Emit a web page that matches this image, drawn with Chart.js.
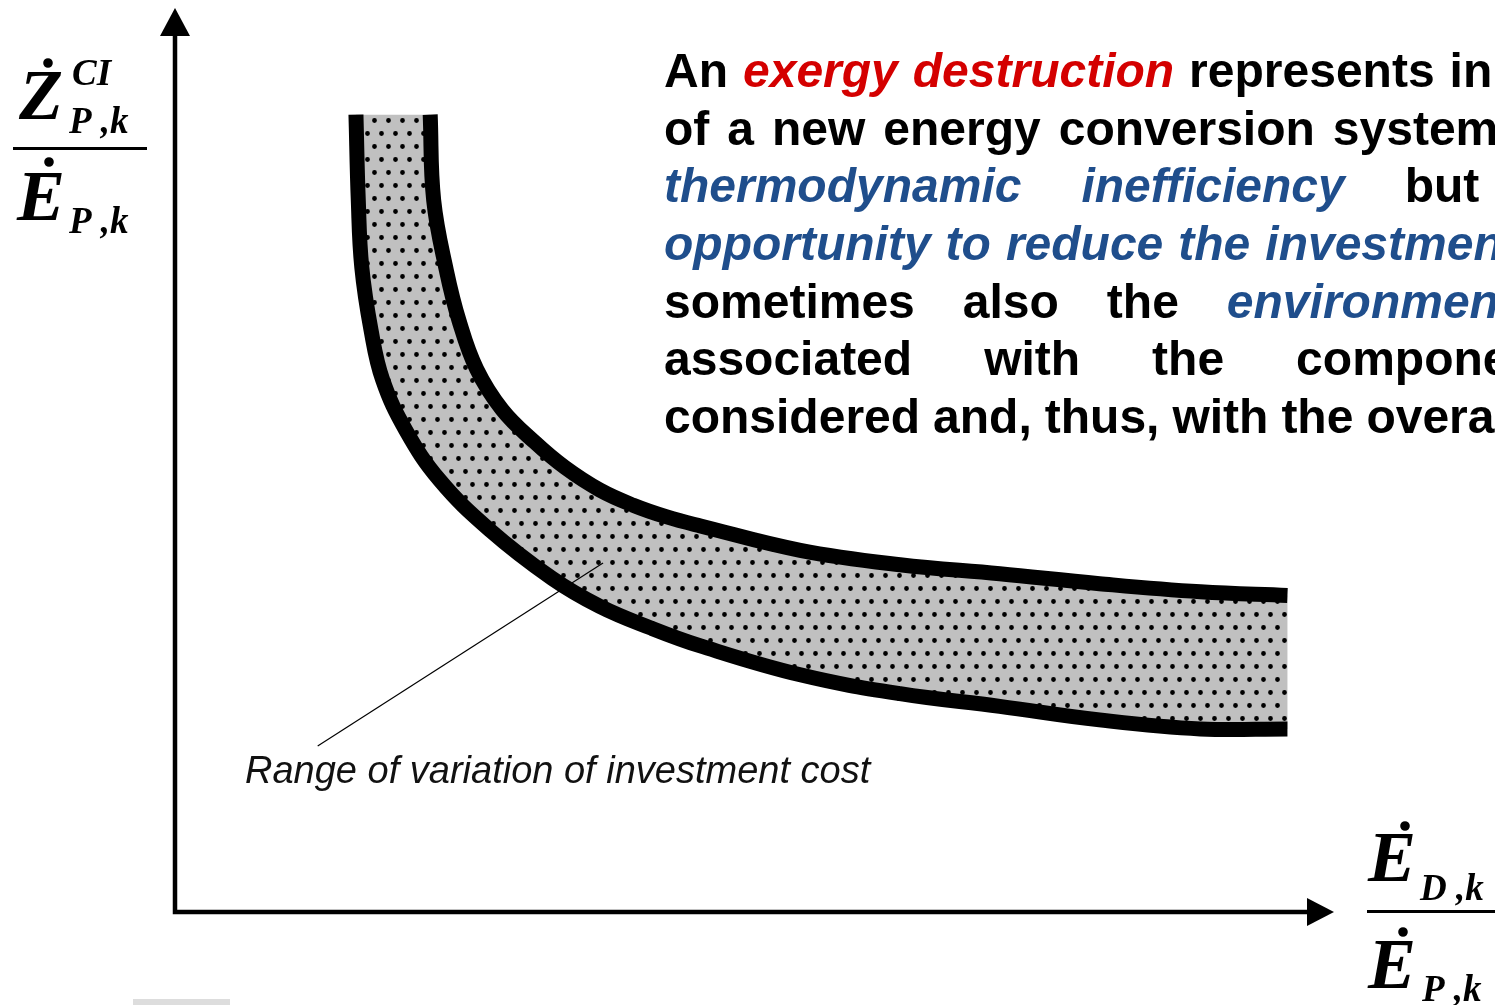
<!DOCTYPE html>
<html>
<head>
<meta charset="utf-8">
<script src="https://cdn.jsdelivr.net/npm/chart.js@4.4.1/dist/chart.umd.min.js"></script>
<style>
  body { margin: 0; background: #fff; }
  canvas { display: block; }
</style>
</head>
<body>
<canvas id="costChart" width="1495" height="1005"></canvas>
<script>
// band edges (x = ED/EP, y = ZCI/EP, arbitrary units 0..10)
const lowerX = [1.56, 1.58, 1.61, 1.69, 1.79, 1.99, 2.28, 2.71, 3.25, 3.66, 4.10, 4.53, 5.39, 6.25, 7.11, 7.97, 8.84, 9.59];
const lowerY = [8.84, 7.89, 7.15, 6.45, 5.90, 5.34, 4.79, 4.24, 3.70, 3.39, 3.15, 2.95, 2.63, 2.42, 2.28, 2.13, 2.03, 2.03];
const upperX = [2.20, 2.23, 2.34, 2.45, 2.60, 2.82, 3.10, 3.36, 3.66, 3.95, 4.24, 4.53, 5.39, 6.25, 7.11, 7.97, 8.84, 9.59];
const upperY = [8.84, 7.89, 7.11, 6.55, 6.02, 5.57, 5.21, 4.93, 4.68, 4.51, 4.38, 4.28, 4.01, 3.85, 3.75, 3.64, 3.55, 3.51];
// leader line of the annotation
const leaderX = [1.23, 3.69];
const leaderY = [1.84, 3.87];

const noteText = "Range of variation of investment cost";

// paragraph on the right: words and style (k = black, r = red italic, b = blue italic)
const paraLines = [
    { y: 87,  gap: 15, words: [["An", "k"], ["exergy", "r"], ["destruction", "r"], ["represents", "k"], ["in", "k"]] },
    { y: 145, gap: 18, words: [["of", "k"], ["a", "k"], ["new", "k"], ["energy", "k"], ["conversion", "k"], ["system", "k"]] },
    { y: 202, gap: 60, words: [["thermodynamic", "b"], ["inefficiency", "b"], ["but", "k"]] },
    { y: 260, gap: 15, words: [["opportunity", "b"], ["to", "b"], ["reduce", "b"], ["the", "b"], ["investment", "b"]] },
    { y: 318, gap: 48, words: [["sometimes", "k"], ["also", "k"], ["the", "k"], ["environmental", "b"]] },
    { y: 375, gap: 72, words: [["associated", "k"], ["with", "k"], ["the", "k"], ["component", "k"]] },
    { y: 433, gap: 13, words: [["considered", "k"], ["and,", "k"], ["thus,", "k"], ["with", "k"], ["the", "k"], ["overall", "k"]] }
];

function toPoints(xs, ys) {
    return xs.map((x, i) => ({ x: x, y: ys[i] }));
}

// grey fill with black dots
function makeDots() {
    const c = document.createElement("canvas");
    c.width = 14;
    c.height = 26;
    const g = c.getContext("2d");
    g.fillStyle = "#c0c0c0";
    g.fillRect(0, 0, 14, 26);
    g.fillStyle = "#000";
    g.beginPath();
    g.arc(3.5, 3.5, 2.4, 0, Math.PI * 2);
    g.arc(10.5, 16.5, 2.4, 0, Math.PI * 2);
    g.fill();
    return document.getElementById("costChart").getContext("2d").createPattern(c, "repeat");
}
const dots = makeDots();

const bandFill = {
    id: "bandFill",
    beforeDatasetsDraw(chart) {
        const ctx = chart.ctx;
        const lo = chart.getDatasetMeta(0).data;
        const up = chart.getDatasetMeta(1).data;
        ctx.save();
        ctx.beginPath();
        ctx.moveTo(lo[0].x, lo[0].y);
        for (let i = 1; i < lo.length; i++) ctx.lineTo(lo[i].x, lo[i].y);
        for (let i = up.length - 1; i >= 0; i--) ctx.lineTo(up[i].x, up[i].y);
        ctx.closePath();
        ctx.fillStyle = dots;
        ctx.fill();
        ctx.restore();
    }
};

function serif(size) {
    return "italic bold " + size + "px 'Liberation Serif', 'Times New Roman', serif";
}

const decorations = {
    id: "decorations",
    afterDraw(chart) {
        const ctx = chart.ctx;
        const x0 = chart.scales.x.getPixelForValue(0);
        const y0 = chart.scales.y.getPixelForValue(0);
        const top = chart.chartArea.top;
        const right = chart.chartArea.right;
        ctx.save();

        // axes with arrow heads
        ctx.strokeStyle = "#000";
        ctx.fillStyle = "#000";
        ctx.lineWidth = 4.5;
        ctx.beginPath();
        ctx.moveTo(x0, top + 26);
        ctx.lineTo(x0, y0);
        ctx.lineTo(right - 27, y0);
        ctx.stroke();
        ctx.beginPath();
        ctx.moveTo(x0, top - 2);
        ctx.lineTo(x0 - 15, top + 26);
        ctx.lineTo(x0 + 15, top + 26);
        ctx.closePath();
        ctx.fill();
        ctx.beginPath();
        ctx.moveTo(right - 1, y0);
        ctx.lineTo(right - 28, y0 - 14);
        ctx.lineTo(right - 28, y0 + 14);
        ctx.closePath();
        ctx.fill();

        // y axis title: Z_dot CI P,k / E_dot P,k
        ctx.textBaseline = "alphabetic";
        ctx.textAlign = "left";
        ctx.font = serif(72);
        ctx.fillText("Z", 19, 119);
        ctx.fillText("E", 17, 220);
        ctx.font = serif(37);
        ctx.fillText("CI", 72, 85);
        ctx.fillText("P ,k", 69, 133);
        ctx.fillText("P ,k", 69, 233);
        ctx.fillRect(13, 147, 134, 3);
        ctx.beginPath();
        ctx.arc(48, 63, 4.8, 0, Math.PI * 2);
        ctx.arc(49, 162, 4.8, 0, Math.PI * 2);
        ctx.fill();

        // x axis title: E_dot D,k / E_dot P,k
        ctx.font = serif(72);
        ctx.fillText("E", 1368, 881);
        ctx.fillText("E", 1368, 988);
        ctx.font = serif(37);
        ctx.fillText("D ,k", 1420, 900);
        ctx.fillText("P ,k", 1422, 1001);
        ctx.fillRect(1367, 910, 128, 3);
        ctx.beginPath();
        ctx.arc(1405, 826, 4.8, 0, Math.PI * 2);
        ctx.arc(1403, 932, 4.8, 0, Math.PI * 2);
        ctx.fill();

        // annotation
        ctx.fillStyle = "#111";
        ctx.font = "italic 38px 'Liberation Sans', Arial, sans-serif";
        ctx.fillText(noteText, 245, 783);

        // paragraph
        const styles = {
            k: ["bold 48px 'Liberation Sans', Arial, sans-serif", "#000"],
            r: ["italic bold 48px 'Liberation Sans', Arial, sans-serif", "#d40000"],
            b: ["italic bold 48px 'Liberation Sans', Arial, sans-serif", "#1f4e8c"]
        };
        paraLines.forEach(line => {
            let x = 664;
            line.words.forEach(w => {
                const st = styles[w[1]];
                ctx.font = st[0];
                ctx.fillStyle = st[1];
                ctx.fillText(w[0], x, line.y);
                x += ctx.measureText(w[0]).width + line.gap;
            });
        });

        // stray grey bar at the bottom
        ctx.fillStyle = "#dddddd";
        ctx.fillRect(133, 999, 97, 6);
        ctx.restore();
    }
};

const edge = {
    borderColor: "#000",
    borderWidth: 15,
    borderCapStyle: "butt",
    borderJoinStyle: "round",
    tension: 0.4,
    fill: false
};

new Chart(document.getElementById("costChart"), {
    type: "line",
    data: {
        datasets: [
            Object.assign({ data: toPoints(lowerX, lowerY) }, edge),
            Object.assign({ data: toPoints(upperX, upperY) }, edge),
            {
                data: toPoints(leaderX, leaderY),
                borderColor: "#000",
                borderWidth: 1.2,
                tension: 0,
                fill: false
            }
        ]
    },
    options: {
        responsive: false,
        animation: false,
        layout: { padding: { left: 175, right: 160, top: 10, bottom: 93 } },
        elements: { point: { radius: 0 } },
        scales: {
            x: { type: "linear", min: 0, max: 10, display: false },
            y: { type: "linear", min: 0, max: 10, display: false }
        },
        plugins: {
            legend: { display: false },
            tooltip: { enabled: false }
        }
    },
    plugins: [bandFill, decorations]
});
</script>
</body>
</html>
